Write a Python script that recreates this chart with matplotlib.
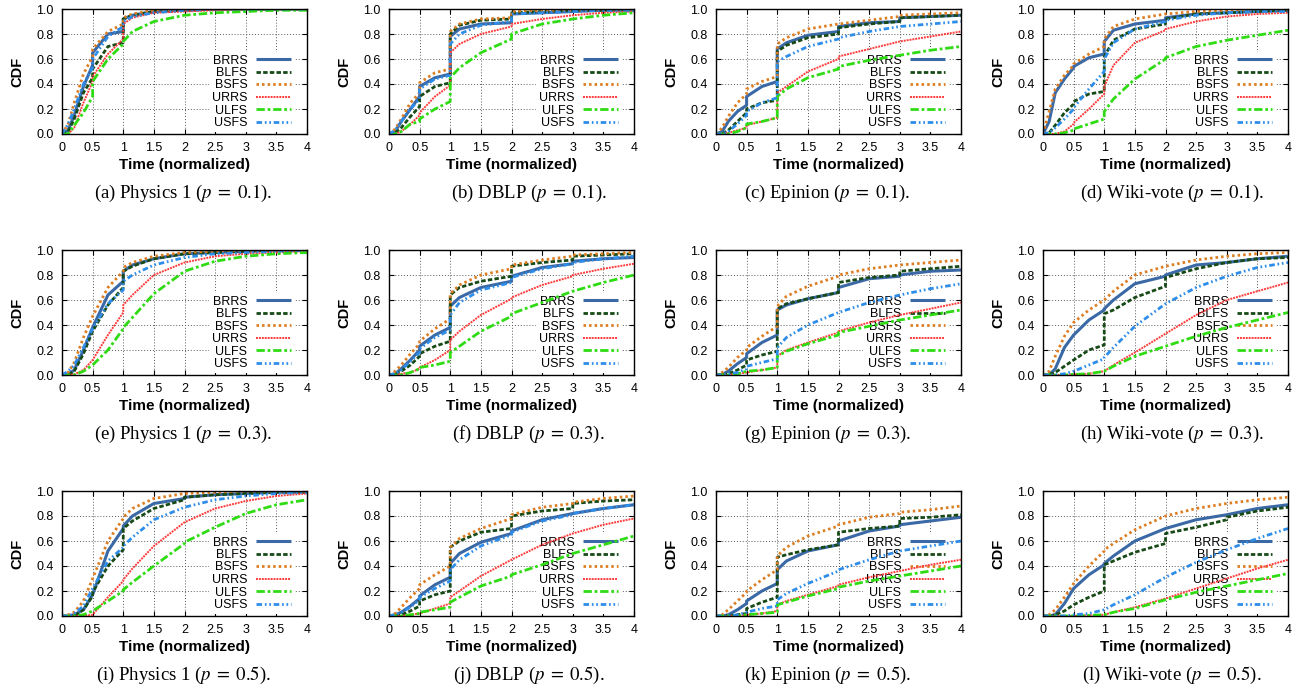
import numpy as np
import matplotlib.pyplot as plt

plt.rcParams['font.family'] = ['Liberation Sans', 'DejaVu Sans']
plt.rcParams['mathtext.fontset'] = 'stix'

# shared time grid (repeated values = vertical jumps of the CDF)
T = [0, 0.1, 0.2, 0.35, 0.5, 0.5, 0.75, 1, 1, 1.15, 1.5, 2, 2, 2.5, 3, 3, 3.5, 4]

methods = ['BRRS', 'BLFS', 'BSFS', 'URRS', 'ULFS', 'USFS']
datasets = ['Physics 1', 'DBLP', 'Epinion', 'Wiki-vote']
probs = ['0.1', '0.3', '0.5']
letters = 'abcdefghijkl'

# CDF values per panel, one row per method (BRRS, BLFS, BSFS, URRS, ULFS, USFS)
phys_p1 = [
    [0, 0.03, 0.15, 0.38, 0.55, 0.65, 0.80, 0.82, 0.92, 0.95, 0.98, 0.99, 0.99, 1, 1, 1, 1, 1],
    [0, 0.02, 0.12, 0.33, 0.45, 0.52, 0.70, 0.73, 0.92, 0.95, 0.98, 0.99, 0.99, 1, 1, 1, 1, 1],
    [0, 0.08, 0.25, 0.48, 0.62, 0.68, 0.82, 0.88, 0.93, 0.96, 0.99, 1, 1, 1, 1, 1, 1, 1],
    [0, 0, 0.05, 0.25, 0.42, 0.46, 0.64, 0.76, 0.88, 0.93, 0.97, 0.98, 0.98, 0.99, 1, 1, 1, 1],
    [0, 0, 0.07, 0.17, 0.30, 0.42, 0.60, 0.72, 0.74, 0.82, 0.90, 0.95, 0.95, 0.97, 0.98, 0.98, 0.99, 0.99],
    [0, 0.08, 0.20, 0.40, 0.53, 0.60, 0.78, 0.86, 0.90, 0.94, 0.97, 0.99, 0.99, 1, 1, 1, 1, 1],
]
dblp_p1 = [
    [0, 0.02, 0.10, 0.20, 0.30, 0.38, 0.45, 0.48, 0.78, 0.84, 0.88, 0.89, 0.96, 0.97, 0.98, 0.98, 0.99, 0.99],
    [0, 0.01, 0.05, 0.14, 0.22, 0.30, 0.38, 0.41, 0.80, 0.87, 0.91, 0.92, 0.97, 0.98, 0.99, 0.99, 0.99, 1],
    [0, 0.04, 0.12, 0.25, 0.33, 0.41, 0.49, 0.52, 0.82, 0.88, 0.92, 0.93, 0.98, 0.99, 0.99, 0.99, 1, 1],
    [0, 0, 0.02, 0.08, 0.15, 0.17, 0.30, 0.39, 0.65, 0.72, 0.80, 0.86, 0.88, 0.92, 0.95, 0.95, 0.97, 0.98],
    [0, 0, 0.02, 0.08, 0.10, 0.12, 0.20, 0.26, 0.45, 0.53, 0.65, 0.76, 0.80, 0.88, 0.92, 0.92, 0.95, 0.97],
    [0, 0.03, 0.10, 0.20, 0.28, 0.36, 0.44, 0.47, 0.72, 0.80, 0.87, 0.90, 0.96, 0.97, 0.98, 0.98, 0.99, 0.99],
]
epin_p1 = [
    [0, 0.02, 0.10, 0.18, 0.23, 0.30, 0.38, 0.42, 0.68, 0.73, 0.79, 0.82, 0.86, 0.89, 0.90, 0.93, 0.94, 0.95],
    [0, 0, 0.03, 0.10, 0.17, 0.20, 0.25, 0.27, 0.66, 0.71, 0.77, 0.80, 0.85, 0.88, 0.90, 0.93, 0.94, 0.95],
    [0, 0.05, 0.14, 0.25, 0.32, 0.36, 0.42, 0.46, 0.72, 0.77, 0.84, 0.88, 0.88, 0.91, 0.94, 0.95, 0.96, 0.97],
    [0, 0, 0.01, 0.03, 0.05, 0.07, 0.10, 0.13, 0.33, 0.38, 0.50, 0.60, 0.62, 0.68, 0.74, 0.74, 0.78, 0.82],
    [0, 0, 0, 0.02, 0.05, 0.08, 0.10, 0.13, 0.30, 0.36, 0.45, 0.52, 0.54, 0.59, 0.63, 0.63, 0.67, 0.70],
    [0, 0, 0.02, 0.08, 0.15, 0.18, 0.25, 0.29, 0.58, 0.62, 0.70, 0.76, 0.77, 0.82, 0.86, 0.86, 0.88, 0.90],
]
wiki_p1 = [
    [0, 0.10, 0.33, 0.44, 0.53, 0.54, 0.61, 0.64, 0.74, 0.83, 0.88, 0.91, 0.93, 0.96, 0.97, 0.97, 0.98, 0.99],
    [0, 0.01, 0.07, 0.17, 0.24, 0.26, 0.32, 0.34, 0.62, 0.75, 0.84, 0.88, 0.92, 0.96, 0.97, 0.97, 0.98, 0.99],
    [0, 0.18, 0.36, 0.47, 0.55, 0.56, 0.64, 0.70, 0.76, 0.86, 0.92, 0.96, 0.96, 0.98, 0.99, 0.99, 1, 1],
    [0, 0, 0, 0.02, 0.08, 0.09, 0.20, 0.32, 0.38, 0.55, 0.73, 0.83, 0.84, 0.90, 0.94, 0.94, 0.96, 0.97],
    [0, 0, 0, 0.01, 0.03, 0.04, 0.08, 0.12, 0.18, 0.28, 0.44, 0.60, 0.61, 0.70, 0.75, 0.75, 0.79, 0.83],
    [0, 0.01, 0.05, 0.12, 0.20, 0.21, 0.36, 0.50, 0.60, 0.73, 0.84, 0.90, 0.91, 0.95, 0.97, 0.97, 0.98, 0.98],
]
phys_p3 = [
    [0, 0.005, 0.04, 0.20, 0.38, 0.38, 0.64, 0.75, 0.83, 0.88, 0.93, 0.97, 0.97, 0.98, 0.99, 0.99, 1, 1],
    [0, 0, 0.03, 0.17, 0.35, 0.35, 0.56, 0.70, 0.83, 0.87, 0.93, 0.97, 0.97, 0.98, 0.99, 0.99, 1, 1],
    [0, 0.02, 0.10, 0.30, 0.47, 0.47, 0.70, 0.83, 0.86, 0.90, 0.95, 0.98, 0.98, 0.99, 1, 1, 1, 1],
    [0, 0, 0.005, 0.04, 0.12, 0.12, 0.32, 0.50, 0.56, 0.64, 0.80, 0.90, 0.90, 0.95, 0.97, 0.97, 0.98, 0.99],
    [0, 0, 0, 0.03, 0.08, 0.08, 0.20, 0.37, 0.38, 0.46, 0.65, 0.83, 0.83, 0.91, 0.95, 0.95, 0.97, 0.98],
    [0, 0.03, 0.08, 0.22, 0.37, 0.37, 0.57, 0.68, 0.75, 0.80, 0.88, 0.94, 0.94, 0.97, 0.98, 0.98, 0.99, 1],
]
dblp_p3 = [
    [0, 0.01, 0.05, 0.12, 0.20, 0.23, 0.32, 0.38, 0.55, 0.62, 0.70, 0.75, 0.79, 0.86, 0.89, 0.91, 0.93, 0.94],
    [0, 0.005, 0.03, 0.08, 0.15, 0.17, 0.23, 0.27, 0.64, 0.70, 0.75, 0.79, 0.87, 0.90, 0.92, 0.95, 0.96, 0.97],
    [0, 0.03, 0.08, 0.17, 0.25, 0.27, 0.37, 0.45, 0.65, 0.72, 0.80, 0.85, 0.88, 0.92, 0.95, 0.96, 0.97, 0.98],
    [0, 0, 0.01, 0.02, 0.05, 0.06, 0.12, 0.20, 0.28, 0.35, 0.48, 0.61, 0.62, 0.72, 0.79, 0.80, 0.85, 0.89],
    [0, 0, 0, 0.02, 0.05, 0.06, 0.08, 0.11, 0.18, 0.23, 0.35, 0.47, 0.49, 0.58, 0.67, 0.67, 0.74, 0.80],
    [0, 0.01, 0.04, 0.11, 0.18, 0.21, 0.30, 0.36, 0.48, 0.58, 0.68, 0.74, 0.78, 0.85, 0.89, 0.90, 0.93, 0.95],
]
epin_p3 = [
    [0, 0.005, 0.03, 0.09, 0.14, 0.17, 0.26, 0.32, 0.52, 0.56, 0.61, 0.66, 0.70, 0.77, 0.79, 0.80, 0.83, 0.84],
    [0, 0, 0.01, 0.04, 0.08, 0.12, 0.16, 0.19, 0.53, 0.57, 0.61, 0.66, 0.74, 0.78, 0.80, 0.83, 0.85, 0.87],
    [0, 0.02, 0.06, 0.14, 0.20, 0.22, 0.31, 0.39, 0.55, 0.63, 0.71, 0.79, 0.80, 0.85, 0.88, 0.88, 0.90, 0.92],
    [0, 0, 0, 0.01, 0.02, 0.02, 0.04, 0.06, 0.15, 0.20, 0.26, 0.34, 0.35, 0.42, 0.48, 0.48, 0.53, 0.58],
    [0, 0, 0, 0.01, 0.03, 0.03, 0.04, 0.06, 0.15, 0.19, 0.25, 0.32, 0.34, 0.39, 0.44, 0.44, 0.48, 0.52],
    [0, 0, 0.01, 0.02, 0.05, 0.07, 0.10, 0.13, 0.22, 0.30, 0.40, 0.50, 0.50, 0.58, 0.64, 0.64, 0.69, 0.73],
]
wiki_p3 = [
    [0, 0, 0.05, 0.22, 0.32, 0.32, 0.44, 0.52, 0.53, 0.60, 0.73, 0.79, 0.80, 0.88, 0.90, 0.90, 0.93, 0.95],
    [0, 0.005, 0.02, 0.07, 0.12, 0.12, 0.20, 0.24, 0.49, 0.52, 0.62, 0.71, 0.78, 0.85, 0.90, 0.90, 0.93, 0.94],
    [0, 0.03, 0.15, 0.31, 0.42, 0.42, 0.52, 0.60, 0.60, 0.67, 0.80, 0.87, 0.87, 0.92, 0.95, 0.95, 0.97, 0.98],
    [0, 0, 0, 0, 0.005, 0.005, 0.01, 0.03, 0.03, 0.08, 0.18, 0.33, 0.33, 0.48, 0.60, 0.60, 0.67, 0.74],
    [0, 0, 0, 0, 0.005, 0.005, 0.01, 0.03, 0.03, 0.07, 0.15, 0.23, 0.23, 0.31, 0.38, 0.38, 0.44, 0.50],
    [0, 0, 0, 0.01, 0.03, 0.03, 0.08, 0.13, 0.14, 0.22, 0.39, 0.57, 0.57, 0.70, 0.79, 0.79, 0.86, 0.90],
]
phys_p5 = [
    [0, 0, 0.01, 0.05, 0.17, 0.17, 0.52, 0.70, 0.72, 0.80, 0.90, 0.94, 0.95, 0.97, 0.98, 0.98, 0.99, 0.99],
    [0, 0, 0, 0.05, 0.16, 0.19, 0.40, 0.53, 0.70, 0.76, 0.86, 0.93, 0.95, 0.97, 0.98, 0.98, 0.99, 0.99],
    [0, 0.01, 0.03, 0.12, 0.30, 0.30, 0.60, 0.78, 0.79, 0.86, 0.94, 0.98, 0.98, 0.99, 1, 1, 1, 1],
    [0, 0, 0, 0, 0.01, 0.01, 0.15, 0.28, 0.29, 0.38, 0.56, 0.75, 0.75, 0.86, 0.92, 0.92, 0.96, 0.98],
    [0, 0, 0, 0.01, 0.04, 0.04, 0.12, 0.20, 0.21, 0.27, 0.40, 0.58, 0.59, 0.71, 0.82, 0.82, 0.89, 0.93],
    [0, 0, 0.02, 0.08, 0.22, 0.22, 0.44, 0.55, 0.56, 0.63, 0.77, 0.87, 0.87, 0.93, 0.96, 0.96, 0.98, 0.99],
]
dblp_p5 = [
    [0, 0.01, 0.03, 0.08, 0.14, 0.16, 0.25, 0.31, 0.42, 0.50, 0.59, 0.66, 0.68, 0.77, 0.82, 0.82, 0.86, 0.89],
    [0, 0, 0.01, 0.04, 0.08, 0.12, 0.17, 0.20, 0.55, 0.60, 0.67, 0.70, 0.80, 0.84, 0.86, 0.90, 0.92, 0.93],
    [0, 0.02, 0.07, 0.15, 0.22, 0.25, 0.33, 0.40, 0.55, 0.62, 0.70, 0.78, 0.81, 0.87, 0.90, 0.91, 0.94, 0.96],
    [0, 0, 0, 0.01, 0.02, 0.02, 0.06, 0.10, 0.15, 0.20, 0.32, 0.45, 0.45, 0.57, 0.66, 0.66, 0.73, 0.78],
    [0, 0, 0, 0.01, 0.02, 0.03, 0.05, 0.07, 0.11, 0.15, 0.24, 0.32, 0.33, 0.41, 0.50, 0.50, 0.57, 0.64],
    [0, 0.01, 0.03, 0.07, 0.13, 0.15, 0.22, 0.28, 0.37, 0.45, 0.56, 0.65, 0.67, 0.76, 0.81, 0.82, 0.86, 0.89],
]
epin_p5 = [
    [0, 0, 0.01, 0.05, 0.10, 0.12, 0.20, 0.26, 0.37, 0.44, 0.52, 0.57, 0.60, 0.68, 0.72, 0.73, 0.76, 0.79],
    [0, 0, 0, 0.01, 0.02, 0.06, 0.11, 0.15, 0.47, 0.49, 0.53, 0.57, 0.67, 0.70, 0.72, 0.78, 0.79, 0.81],
    [0, 0.01, 0.05, 0.12, 0.19, 0.20, 0.29, 0.37, 0.48, 0.55, 0.64, 0.72, 0.73, 0.79, 0.82, 0.83, 0.85, 0.88],
    [0, 0, 0, 0, 0.01, 0.01, 0.02, 0.04, 0.09, 0.12, 0.17, 0.24, 0.25, 0.31, 0.36, 0.36, 0.41, 0.45],
    [0, 0, 0, 0, 0.01, 0.01, 0.02, 0.03, 0.09, 0.11, 0.16, 0.22, 0.23, 0.28, 0.32, 0.32, 0.36, 0.40],
    [0, 0, 0, 0.01, 0.03, 0.03, 0.06, 0.08, 0.13, 0.18, 0.26, 0.36, 0.37, 0.45, 0.52, 0.52, 0.56, 0.60],
]
wiki_p5 = [
    [0, 0, 0.01, 0.10, 0.22, 0.22, 0.33, 0.41, 0.42, 0.48, 0.60, 0.70, 0.70, 0.77, 0.81, 0.81, 0.86, 0.89],
    [0, 0, 0.01, 0.04, 0.09, 0.09, 0.15, 0.20, 0.41, 0.44, 0.51, 0.58, 0.66, 0.71, 0.77, 0.79, 0.84, 0.87],
    [0, 0.01, 0.05, 0.15, 0.26, 0.26, 0.40, 0.52, 0.53, 0.58, 0.69, 0.80, 0.80, 0.86, 0.90, 0.90, 0.93, 0.95],
    [0, 0, 0, 0, 0, 0, 0.005, 0.01, 0.01, 0.03, 0.07, 0.14, 0.14, 0.22, 0.30, 0.30, 0.38, 0.45],
    [0, 0, 0, 0, 0, 0, 0.005, 0.01, 0.01, 0.03, 0.06, 0.13, 0.13, 0.19, 0.24, 0.24, 0.29, 0.34],
    [0, 0, 0, 0, 0.01, 0.01, 0.02, 0.05, 0.05, 0.09, 0.17, 0.31, 0.31, 0.43, 0.53, 0.53, 0.62, 0.70],
]

panels = [
    [phys_p1, dblp_p1, epin_p1, wiki_p1],
    [phys_p3, dblp_p3, epin_p3, wiki_p3],
    [phys_p5, dblp_p5, epin_p5, wiki_p5],
]

# line styles (gnuplot look)
colors = ['#3b69a6', '#174a17', '#dc7d22', '#ff3a3a', '#2fdc14', '#2d8de8']
widths = [2.2, 2.0, 2.0, 1.4, 2.0, 2.0]
dashes = [None, (1.6, 0.8), (0.9, 1.1), (1.0, 0.5), (3.0, 1.0, 1.0, 1.0), (2.0, 1.0, 0.6, 1.0, 0.6, 1.0)]

W, H = 1302, 694
fig = plt.figure(figsize=(W / 100, H / 100), dpi=100)

col_left = [62, 389, 716, 1043]
row_top = [9, 250, 491]
ax_w, ax_h = 245, 125
cap_dx = [-1, 17, -11, 6]

for r in range(3):
    for c in range(4):
        ax = fig.add_axes([col_left[c] / W, 1 - (row_top[r] + ax_h) / H, ax_w / W, ax_h / H])
        ys = panels[r][c]
        for k in range(6):
            ln, = ax.plot(T, ys[k], color=colors[k], lw=widths[k], label=methods[k],
                          solid_capstyle='butt', dash_capstyle='butt', zorder=2)
            if dashes[k] is not None:
                ln.set_dashes(dashes[k])
        ax.set_xlim(0, 4)
        ax.set_ylim(0, 1)
        ax.set_xticks(np.arange(0, 4.01, 0.5))
        ax.set_xticklabels(['0', '0.5', '1', '1.5', '2', '2.5', '3', '3.5', '4'])
        ax.set_yticks(np.arange(0, 1.01, 0.2))
        ax.set_yticklabels(['%.1f' % v for v in np.arange(0, 1.01, 0.2)])
        ax.tick_params(direction='in', length=3.5, width=0.8, top=True, right=True,
                       labelsize=9, pad=6)
        ax.set_axisbelow(True)
        ax.grid(True, color='0.35', lw=0.7, ls=(0, (1, 2)))
        for s in ax.spines.values():
            s.set_linewidth(1.0)
        ax.set_xlabel('Time (normalized)', fontsize=11, fontweight='bold')
        ax.set_ylabel('CDF', fontsize=10.5, fontweight='bold')
        ax.xaxis.set_label_coords(0.5, -0.19)
        ax.yaxis.set_label_coords(-0.155, 0.5)
        leg = ax.legend(loc='lower right', bbox_to_anchor=(0.945, 0.02), markerfirst=False,
                        fontsize=9, frameon=True, fancybox=False, framealpha=1,
                        edgecolor='none', facecolor='white', handlelength=2.8,
                        handletextpad=0.7, labelspacing=0.04, borderpad=0.2,
                        borderaxespad=0)
        leg.set_zorder(1.5)
        cap = r'(%s) %s ($p\;=\;%s$).' % (letters[r * 4 + c], datasets[c], probs[r])
        fig.text((col_left[c] + ax_w / 2 + cap_dx[c]) / W, 1 - (row_top[r] + ax_h + 59) / H,
                 cap, ha='center', va='center', fontsize=13.5, family='Liberation Serif')

fig.savefig('out.png', dpi=100)
